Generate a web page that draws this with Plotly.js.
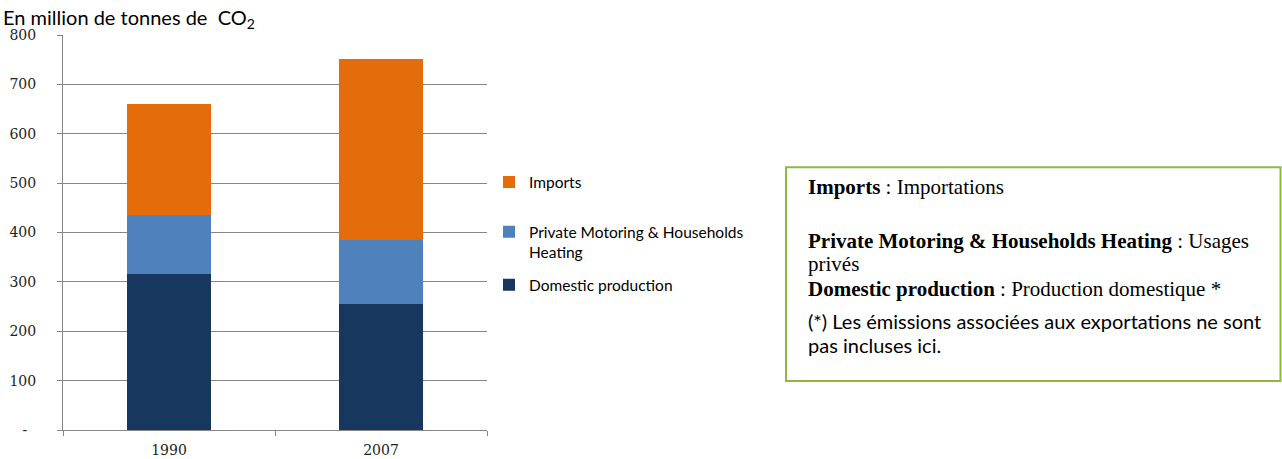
<!DOCTYPE html>
<html>
<head>
<meta charset="utf-8">
<script src="https://cdn.plot.ly/plotly-3.0.1.min.js"></script>
<style>html,body{margin:0;padding:0;background:#fff;}#chart{width:1282px;height:459px;}</style>
</head>
<body>
<div id="chart"></div>
<script>
const years = ['1990', '2007'];
const domesticProduction = [316, 255];
const privateMotoring = [119, 130];
const imports = [226, 367];
const yTickVals = [0, 100, 200, 300, 400, 500, 600, 700, 800];
const yTickText = ['-\u00a0\u00a0', '100', '200', '300', '400', '500', '600', '700', '800'];
const seriesNames = ['Domestic production', 'Private Motoring & Households<br>Heating', 'Imports'];
const seriesColors = ['#17375E', '#4F81BD', '#E46C0A'];
const seriesLegends = ['legend3', 'legend2', 'legend'];

// plot area in pixels
const L = 63, R = 487, T = 34.5, B = 430;
const W = 1282, H = 459;
const px = x => (x - L) / (R - L);
const py = y => (B - y) / (B - T);

const traces = [domesticProduction, privateMotoring, imports].map((vals, i) => ({
  type: 'bar', x: years, y: vals, name: seriesNames[i],
  marker: {color: seriesColors[i], line: {width: 0}},
  legend: seriesLegends[i], hoverinfo: 'x+y+name'
}));

const sans = 'Lato, Calibri, sans-serif';
const serif = '"Liberation Serif", "Times New Roman", serif';
const boxFont = {family: serif, size: 21, color: '#000'};
const boxSans = {family: sans, size: 20, color: '#000'};
const legendFont = {family: sans, size: 15.5, color: '#000'};
const legendBase = yc => ({x: px(489), y: py(yc), xanchor: 'left', yanchor: 'middle', valign: 'top',
  font: legendFont, bgcolor: 'rgba(0,0,0,0)', itemclick: false, itemdoubleclick: false});

const annotations = [
  {xref: 'paper', yref: 'paper', x: px(1), y: py(18), xanchor: 'left', yanchor: 'middle', showarrow: false,
   text: 'En million de tonnes de \u00a0CO<sub>2</sub>', font: {family: sans, size: 20, color: '#000'}},
  {xref: 'paper', yref: 'paper', x: px(806), y: py(187), xanchor: 'left', yanchor: 'middle', showarrow: false,
   text: '<b>Imports</b> : Importations', font: boxFont},
  {xref: 'paper', yref: 'paper', x: px(806), y: py(241), xanchor: 'left', yanchor: 'middle', showarrow: false,
   text: '<b>Private Motoring &amp; Households Heating</b> : Usages', font: boxFont},
  {xref: 'paper', yref: 'paper', x: px(806), y: py(264), xanchor: 'left', yanchor: 'middle', showarrow: false,
   text: 'privés', font: boxFont},
  {xref: 'paper', yref: 'paper', x: px(806), y: py(289), xanchor: 'left', yanchor: 'middle', showarrow: false,
   text: '<b>Domestic production</b> : Production domestique *', font: boxFont},
  {xref: 'paper', yref: 'paper', x: px(806), y: py(321), xanchor: 'left', yanchor: 'middle', showarrow: false,
   text: '(*) Les émissions associées aux exportations ne sont', font: boxSans},
  {xref: 'paper', yref: 'paper', x: px(806), y: py(345), xanchor: 'left', yanchor: 'middle', showarrow: false,
   text: 'pas incluses ici.', font: boxSans}
];

const shapes = [
  {type: 'rect', xref: 'paper', yref: 'paper', x0: px(786), x1: px(1280.5), y0: py(381), y1: py(167),
   line: {color: '#8DB93F', width: 2}, fillcolor: 'rgba(0,0,0,0)'}
];

const layout = {
  width: W, height: H,
  margin: {l: L, r: W - R, t: T, b: H - B, pad: 0},
  paper_bgcolor: '#fff', plot_bgcolor: '#fff',
  barmode: 'stack', bargap: 0.604,
  showlegend: true,
  legend: legendBase(182),
  legend2: legendBase(242),
  legend3: legendBase(285),
  xaxis: {type: 'category', range: [-0.5, 1.5], showgrid: false, showline: true, linecolor: '#868686', linewidth: 1,
          ticks: 'outside', tickson: 'boundaries', ticklen: 5, tickcolor: '#868686', ticklabelstandoff: 7,
          tickfont: {family: '"DejaVu Serif", serif', size: 14, color: '#222'}, fixedrange: true},
  yaxis: {range: [0, 800], tickvals: yTickVals, ticktext: yTickText, showgrid: true, gridcolor: '#868686', gridwidth: 1,
          showline: true, linecolor: '#868686', linewidth: 1, ticks: 'outside', ticklen: 5, tickcolor: '#868686',
          ticklabelstandoff: 18,
          zeroline: false, tickfont: {family: '"DejaVu Serif", serif', size: 14, color: '#222'}, fixedrange: true},
  annotations: annotations, shapes: shapes
};

Plotly.newPlot('chart', traces, layout, {displayModeBar: false});
</script>
</body>
</html>
